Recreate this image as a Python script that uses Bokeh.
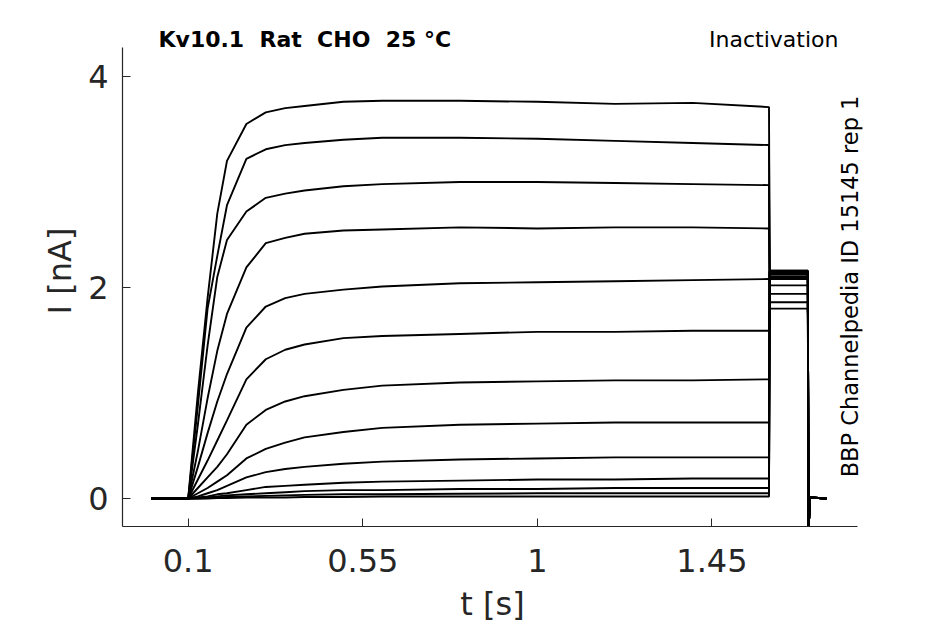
import numpy as np
from bokeh.plotting import figure
from bokeh.models import Range1d, FixedTicker, CustomJSTickFormatter, Label
from bokeh.embed import file_html
from bokeh.resources import INLINE

# ---- data ----
PRE_T = [0.005, 0.1]
STEP_T = [0.1, 0.125, 0.15, 0.175, 0.2, 0.25, 0.3, 0.35, 0.4, 0.5, 0.6, 0.8, 1.0, 1.2, 1.4, 1.597]
TRACES = [
    [0, 1.00, 1.90, 2.70, 3.20, 3.55, 3.66, 3.70, 3.72, 3.76, 3.77, 3.77, 3.76, 3.74, 3.75, 3.71],
    [0, 0.88, 1.80, 2.30, 2.78, 3.22, 3.31, 3.35, 3.37, 3.40, 3.42, 3.42, 3.41, 3.39, 3.37, 3.35],
    [0, 0.70, 1.45, 2.10, 2.45, 2.72, 2.85, 2.89, 2.92, 2.96, 2.98, 3.00, 3.00, 2.99, 2.98, 2.97],
    [0, 0.45, 0.95, 1.40, 1.75, 2.19, 2.42, 2.47, 2.51, 2.54, 2.55, 2.57, 2.56, 2.57, 2.57, 2.56],
    [0, 0.30, 0.62, 0.92, 1.18, 1.62, 1.82, 1.90, 1.94, 1.98, 2.01, 2.04, 2.05, 2.06, 2.07, 2.08],
    [0, 0.18, 0.36, 0.55, 0.74, 1.13, 1.32, 1.41, 1.46, 1.52, 1.54, 1.56, 1.58, 1.58, 1.59, 1.59],
    [0, 0.10, 0.20, 0.30, 0.42, 0.70, 0.84, 0.92, 0.97, 1.03, 1.07, 1.10, 1.11, 1.12, 1.12, 1.13],
    [0, 0.05, 0.10, 0.16, 0.22, 0.38, 0.47, 0.53, 0.58, 0.63, 0.67, 0.70, 0.71, 0.72, 0.72, 0.72],
    [0, 0.02, 0.05, 0.08, 0.12, 0.20, 0.25, 0.28, 0.30, 0.33, 0.35, 0.37, 0.38, 0.39, 0.39, 0.39],
    [0, 0.01, 0.02, 0.04, 0.05, 0.08, 0.11, 0.12, 0.13, 0.15, 0.16, 0.17, 0.18, 0.18, 0.19, 0.19],
    [0, 0.005, 0.01, 0.02, 0.03, 0.04, 0.05, 0.06, 0.07, 0.08, 0.08, 0.09, 0.09, 0.10, 0.10, 0.10],
    [0, 0.0, 0.005, 0.01, 0.015, 0.02, 0.025, 0.03, 0.035, 0.04, 0.04, 0.045, 0.05, 0.05, 0.05, 0.05],
    [0, 0.0, 0.0, 0.005, 0.005, 0.01, 0.01, 0.01, 0.015, 0.015, 0.02, 0.02, 0.02, 0.02, 0.02, 0.02],
]
TAIL_T = [1.599, 1.697]
TAIL_I = [1.80, 1.86, 1.94, 2.02, 2.08, 2.10, 2.12, 2.13, 2.14, 2.15, 2.15, 2.16, 2.16]
POST_T = [1.699, 1.703, 1.745]
POST_I = [-0.30, 0.01, 0.0]

X_TICKS = [0.1, 0.55, 1, 1.45]
Y_TICKS = [0, 2, 4]

TITLE_LEFT = "Kv10.1 \u00a0Rat \u00a0CHO \u00a025 °C"
TITLE_RIGHT = "Inactivation"
SIDE_TEXT = "BBP Channelpedia ID 15145 rep 1"

# axes extents (data units)
X_AXIS = (-0.0693, 1.825)
Y_AXIS = (-0.265, 4.275)

# ---- figure ----
FONT = "DejaVu Sans"
INK = "#262626"

p = figure(frame_width=740, frame_height=511,
           min_border_left=122, min_border_right=75, min_border_top=15, min_border_bottom=90,
           x_range=Range1d(X_AXIS[0], 1.838), y_range=Range1d(Y_AXIS[0], 4.578),
           output_backend="svg", toolbar_location=None)
p.outline_line_color = None
p.grid.visible = False
p.background_fill_color = "white"
p.border_fill_color = "white"

xs, ys = [], []
for vals, tail in zip(TRACES, TAIL_I):
    xs.append(PRE_T + STEP_T + TAIL_T + POST_T)
    ys.append([0, 0] + vals + [tail, tail] + POST_I)
p.multi_line(xs=xs, ys=ys, line_color="black", line_width=1.9)

for ax in (p.xaxis[0], p.yaxis[0]):
    ax.axis_line_color = INK
    ax.axis_line_width = 1.2
    ax.major_tick_line_color = INK
    ax.major_tick_in = 8
    ax.major_tick_out = 0
    ax.minor_tick_line_color = None
    ax.major_label_text_font = FONT
    ax.major_label_text_font_size = "32px"
    ax.major_label_text_color = INK
    ax.axis_label_text_font = FONT
    ax.axis_label_text_font_size = "32px"
    ax.axis_label_text_font_style = "normal"
    ax.axis_label_text_color = INK
    ax.formatter = CustomJSTickFormatter(code="return tick.toString();")

p.xaxis.bounds = X_AXIS
p.yaxis.bounds = Y_AXIS
p.xaxis.ticker = FixedTicker(ticks=X_TICKS)
p.yaxis.ticker = FixedTicker(ticks=Y_TICKS)
p.xaxis.axis_label = "t [s]"
p.yaxis.axis_label = "I [nA]"
p.xaxis.major_label_standoff = 22
p.yaxis.major_label_standoff = 14
p.xaxis.axis_label_standoff = 10
p.yaxis.axis_label_standoff = 6

p.add_layout(Label(x=0.0235, y=4.351, text=TITLE_LEFT, text_font=FONT, text_font_size="22px",
                   text_font_style="bold", text_color="black", text_baseline="alphabetic",
                   text_align="left"))
p.add_layout(Label(x=1.776, y=4.351, text=TITLE_RIGHT, text_font=FONT, text_font_size="22px",
                   text_color="black", text_baseline="alphabetic", text_align="right"))
p.add_layout(Label(x=1.807, y=2.01, text=SIDE_TEXT, text_font=FONT, text_font_size="22.5px",
                   text_color="black", text_baseline="middle", text_align="center",
                   angle=np.pi / 2))

open("out.html", "w").write(file_html(p, INLINE))
